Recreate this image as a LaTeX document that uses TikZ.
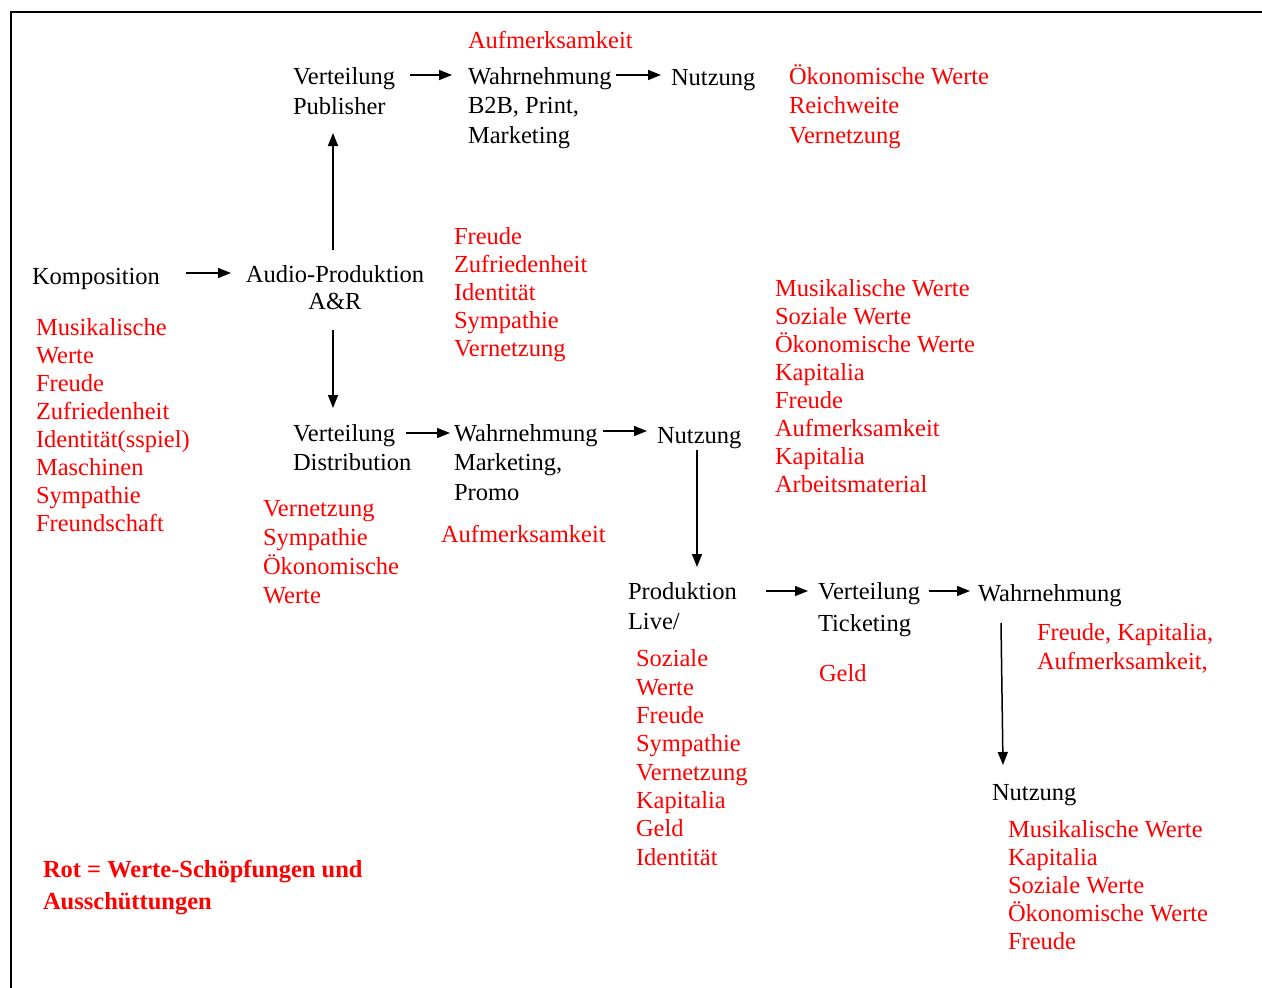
\documentclass[tikz,border=0pt]{standalone}
\usepackage{fontspec}
\setmainfont{Liberation Serif}
\usetikzlibrary{arrows.meta}
\definecolor{valred}{RGB}{255,0,0}
\begin{document}
\begin{tikzpicture}[x=1pt,y=-1pt,
  % nodes are placed by the baseline of their last line
  lbl/.style={anchor=base west, inner sep=0pt, outer sep=0pt, align=left,
              font=\fontsize{24.5}{30}\selectfont},
  val/.style={lbl, text=valred, font=\fontsize{24.5}{28}\selectfont},
  arr/.style={-{Triangle[length=13pt,width=10pt]}, line width=1.5pt}]

\useasboundingbox (0,0) rectangle (1262,988);
% frame
\draw[line width=2pt] (10.5,988) -- (10.5,12) -- (1262,12);

% top chain: publishing
\node[lbl] (verpub) at (293,114) {Verteilung\\Publisher};
\node[val] (attn1) at (468,48) {Aufmerksamkeit};
\node[lbl, font=\fontsize{24.5}{29.5}\selectfont] (wahr1) at (468,143) {Wahrnehmung\\B2B, Print,\\Marketing};
\node[lbl] (nutz1) at (671,85) {Nutzung};
\node[val, font=\fontsize{24.5}{29.5}\selectfont] (val1) at (789,143) {Ökonomische Werte\\Reichweite\\Vernetzung};

% middle chain: recording and distribution
\node[lbl] (komp) at (32,284) {Komposition};
\node[lbl, anchor=base, align=center, font=\fontsize{24.5}{27}\selectfont] (audio) at (335,309) {Audio-Produktion\\A\&R};
\node[val] (val2) at (454,356) {Freude\\Zufriedenheit\\Identität\\Sympathie\\Vernetzung};
\node[val] (val3) at (36,531) {Musikalische\\Werte\\Freude\\Zufriedenheit\\Identität(sspiel)\\Maschinen\\Sympathie\\Freundschaft};
\node[val] (val4) at (775,492) {Musikalische Werte\\Soziale Werte\\Ökonomische Werte\\Kapitalia\\Freude\\Aufmerksamkeit\\Kapitalia\\Arbeitsmaterial};
\node[lbl, font=\fontsize{24.5}{29}\selectfont] (verdist) at (293,470) {Verteilung\\Distribution};
\node[val, font=\fontsize{24.5}{29}\selectfont] (val5) at (263,603) {Vernetzung\\Sympathie\\Ökonomische\\Werte};
\node[lbl, font=\fontsize{24.5}{29.5}\selectfont] (wahr2) at (454,500) {Wahrnehmung\\Marketing,\\Promo};
\node[val] (attn2) at (441,542) {Aufmerksamkeit};
\node[lbl] (nutz2) at (657,443) {Nutzung};

% bottom chain: live
\node[lbl] (prod) at (628,629) {Produktion\\Live/};
\node[val, font=\fontsize{24.5}{28.3}\selectfont] (val6) at (636,865) {Soziale\\Werte\\Freude\\Sympathie\\Vernetzung\\Kapitalia\\Geld\\Identität};
\node[lbl, font=\fontsize{24.5}{32}\selectfont] (verticket) at (818,631) {Verteilung\\Ticketing};
\node[val] (geld) at (819,681) {Geld};
\node[lbl] (wahr3) at (978,601) {Wahrnehmung};
\node[val, font=\fontsize{24.5}{29}\selectfont] (val7) at (1037,669) {Freude, Kapitalia,\\Aufmerksamkeit,};
\node[lbl] (nutz3) at (992,800) {Nutzung};
\node[val] (val8) at (1008,949) {Musikalische Werte\\Kapitalia\\Soziale Werte\\Ökonomische Werte\\Freude};

% legend
\node[val, font=\fontsize{24.5}{32}\selectfont\bfseries] (legend) at (43,909) {Rot = Werte-Schöpfungen und\\Ausschüttungen};

% arrow end points
\coordinate (pub-out) at (410,75);   \coordinate (wahr1-in) at (452,75);
\coordinate (wahr1-out) at (616,75); \coordinate (nutz1-in) at (661,75);
\coordinate (komp-out) at (186,273); \coordinate (audio-in) at (231,273);
\coordinate (audio-top) at (333,250); \coordinate (pub-in) at (333,133);
\coordinate (audio-bot) at (333,330); \coordinate (dist-in) at (333,408);
\coordinate (dist-out) at (406,433); \coordinate (wahr2-in) at (450,433);
\coordinate (wahr2-out) at (603,431); \coordinate (nutz2-in) at (647,431);
\coordinate (nutz2-bot) at (697,450); \coordinate (prod-in) at (697,567);
\coordinate (prod-out) at (766,591); \coordinate (tick-in) at (808,591);
\coordinate (tick-out) at (929,591); \coordinate (wahr3-in) at (970,591);
\coordinate (wahr3-bot) at (1001,623); \coordinate (nutz3-in) at (1003,765);

% connectors
\draw[arr] (pub-out) -- (wahr1-in);
\draw[arr] (wahr1-out) -- (nutz1-in);
\draw[arr] (komp-out) -- (audio-in);
\draw[arr] (audio-top) -- (pub-in);
\draw[arr] (audio-bot) -- (dist-in);
\draw[arr] (dist-out) -- (wahr2-in);
\draw[arr] (wahr2-out) -- (nutz2-in);
\draw[arr] (nutz2-bot) -- (prod-in);
\draw[arr] (prod-out) -- (tick-in);
\draw[arr] (tick-out) -- (wahr3-in);
\draw[arr] (wahr3-bot) -- (nutz3-in);
\end{tikzpicture}
\end{document}
